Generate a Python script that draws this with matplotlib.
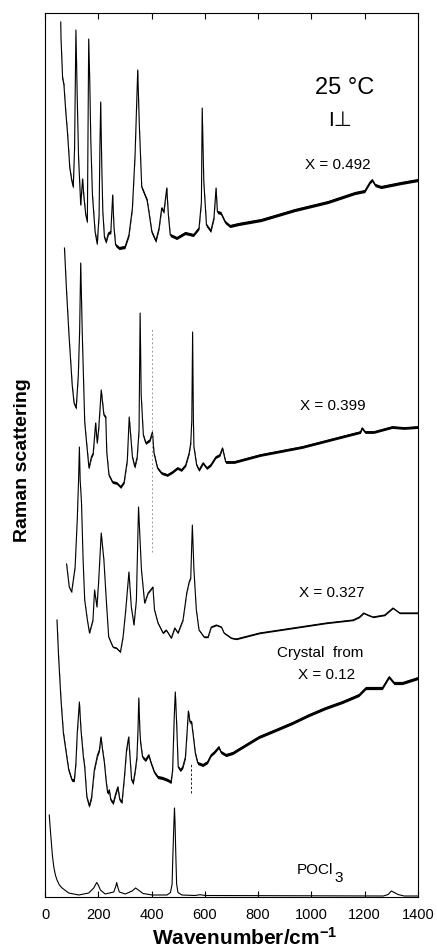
import matplotlib
matplotlib.use("Agg")
import numpy as np
import matplotlib.pyplot as plt

plt.rcParams["font.family"] = ["Liberation Sans", "DejaVu Sans"]
plt.rcParams["mathtext.fontset"] = "custom"
plt.rcParams["mathtext.rm"] = "Liberation Sans"
plt.rcParams["mathtext.it"] = "Liberation Sans:italic"
plt.rcParams["mathtext.bf"] = "Liberation Sans:bold"

# Raman spectra at 25 °C, I⊥ polarisation.
# Wavenumbers in cm^-1, intensities in arbitrary units with the traces stacked.
wn_x0492 = [59, 60, 66, 71, 78, 85, 93, 100, 106, 111, 116, 121, 126, 134, 141, 146, 153, 159, 161, 164,
            168, 172, 178, 188, 196, 203, 206, 209, 213, 217, 223, 229, 238, 247, 254, 259, 265, 278, 300, 315,
            328, 338, 348, 354, 363, 375, 383, 390, 401, 416, 428, 438, 446, 457, 463, 470, 494, 526, 557, 578,
            587, 590, 596, 606, 622, 634, 642, 647, 660, 676, 694, 726, 811, 938, 1062, 1163, 1200, 1220, 1228,
            1239, 1261, 1336, 1400]
int_x0492 = [875, 859, 819, 812, 785, 762, 729, 717, 710, 749, 867, 799, 739, 692, 718, 700, 682, 675, 749, 858,
             815, 755, 702, 665, 653, 682, 749, 795, 732, 685, 660, 655, 664, 665, 702, 669, 652, 649, 650, 662,
             689, 742, 827, 772, 710, 702, 697, 685, 665, 656, 669, 689, 685, 709, 682, 662, 659, 664, 662, 669,
             695, 789, 715, 672, 666, 679, 709, 685, 684, 675, 671, 673, 677, 687, 695, 704, 706, 715, 717,
             712, 710, 714, 717]

wn_x0399 = [73, 81, 90, 102, 109, 117, 125, 130, 134, 140, 149, 155, 165, 174, 181, 190, 196, 202, 211, 221,
            228, 232, 240, 253, 269, 284, 297, 309, 316, 328, 337, 346, 353, 357, 361, 369, 378, 394, 403, 409,
            422, 437, 459, 478, 497, 512, 528, 541, 547, 551, 554, 557, 559, 569, 578, 593, 607, 622, 641, 656,
            666, 678, 710, 808, 965, 1096, 1184, 1190, 1201, 1234, 1303, 1347, 1400]
int_x0399 = [649, 605, 562, 512, 494, 489, 522, 567, 634, 562, 475, 457, 429, 440, 444, 474, 454, 470, 507, 482,
             480, 444, 422, 415, 414, 410, 415, 437, 480, 440, 430, 440, 467, 584, 502, 462, 454, 457, 465, 444,
             429, 424, 422, 425, 429, 427, 432, 444, 454, 477, 565, 477, 450, 432, 427, 434, 429, 432, 440, 442,
             449, 435, 435, 442, 450, 459, 465, 469, 465, 465, 470, 469, 470]

wn_x0327 = [81, 91, 100, 113, 121, 126, 129, 132, 137, 143, 149, 159, 167, 180, 186, 195, 201, 211, 221, 230,
            239, 255, 268, 283, 293, 303, 315, 324, 334, 343, 351, 362, 374, 387, 405, 411, 424, 443, 455, 474,
            487, 499, 518, 532, 541, 547, 553, 559, 568, 578, 597, 612, 624, 643, 662, 672, 699, 718, 806, 931,
            1056, 1156, 1180, 1196, 1212, 1231, 1275, 1306, 1331, 1400]
int_x0327 = [333, 310, 305, 330, 377, 417, 450, 417, 394, 337, 297, 277, 264, 277, 307, 290, 314, 364, 337, 297,
             260, 250, 249, 245, 260, 287, 325, 290, 272, 297, 390, 327, 294, 304, 310, 287, 274, 264, 267, 259,
             269, 264, 277, 304, 315, 319, 372, 327, 287, 267, 260, 260, 270, 272, 270, 264, 259, 258, 264, 269,
             274, 277, 280, 284, 282, 280, 282, 289, 284, 284]

wn_crystal = [45, 51, 60, 69, 78, 89, 101, 110, 116, 121, 129, 135, 144, 149, 157, 166, 175, 185, 197, 204,
              210, 216, 223, 229, 235, 241, 247, 256, 266, 273, 281, 289, 298, 306, 314, 319, 325, 331, 339, 345,
              349, 352, 356, 359, 366, 377, 389, 398, 410, 423, 441, 460, 473, 479, 485, 489, 494, 500, 508, 517,
              527, 533, 538, 544, 550, 557, 564, 573, 592, 610, 623, 636, 652, 660, 679, 704, 741, 803, 866, 928,
              991, 1053, 1116, 1178, 1204, 1266, 1291, 1310, 1341, 1400]
int_crystal = [277, 240, 197, 164, 147, 127, 117, 117, 134, 164, 195, 167, 140, 130, 100, 91, 100, 127, 142, 147,
               160, 147, 134, 117, 104, 107, 97, 94, 104, 110, 97, 95, 120, 147, 160, 140, 117, 114, 127, 140,
               167, 199, 167, 154, 140, 137, 142, 134, 125, 120, 119, 117, 115, 127, 180, 205, 174, 130, 127, 130,
               140, 164, 186, 175, 175, 160, 144, 134, 132, 135, 142, 145, 150, 145, 142, 144, 150, 160, 167, 174,
               182, 189, 195, 202, 209, 209, 220, 214, 214, 219]

wn_pocl3 = [16, 20, 24, 28, 33, 39, 45, 54, 64, 89, 127, 164, 183, 190, 194, 200, 208, 226, 258, 266,
            269, 273, 279, 301, 327, 340, 353, 368, 402, 458, 471, 477, 480, 484, 486, 488, 491, 494, 499, 514,
            563, 582, 601, 1270, 1288, 1300, 1325, 1348, 1400]
int_pocl3 = [82, 67, 54, 41, 30, 22, 17, 12, 9, 4, 2, 4, 9, 12.5, 14.5, 12, 7, 3, 5, 11,
             14.5, 10, 5, 3, 6, 9, 6.5, 3.5, 2, 2, 4.5, 13, 42, 75, 89, 75, 42, 13, 4.5, 2,
             1.5, 2.3, 1.5, 1, 2.5, 6, 2.5, 1, 1]

spectra = [
    (wn_x0492, int_x0492),
    (wn_x0399, int_x0399),
    (wn_x0327, int_x0327),
    (wn_crystal, int_crystal),
    (wn_pocl3, int_pocl3),
]
# detector noise half-width drawn around each trace (same units as intensity)
noise_halfwidth = [1.6, 1.4, 0.7, 1.6, 0.0]

# band-position guide marks: wavenumber and intensity span
guide_wn = [400, 547]
guide_lo = [345, 104]
guide_hi = [570, 134]

fig = plt.figure(figsize=(4.37, 9.51), dpi=100)
ax = fig.add_axes([45 / 437, 54 / 951, 373 / 437, 884 / 951])

for (wn, inten), a in zip(spectra, noise_halfwidth):
    wn = np.asarray(wn, float)
    inten = np.asarray(inten, float)
    ax.plot(wn, inten, color="black", lw=0.8, solid_joinstyle="round")
    if a > 0:
        ax.fill_between(wn, inten - a, inten + a, color="black", lw=0)

ax.plot([guide_wn[0]] * 2, [guide_lo[0], guide_hi[0]], color="0.5", lw=0.6, ls=(0, (2, 3)))
ax.plot([guide_wn[1]] * 2, [guide_lo[1], guide_hi[1]], color="0.15", lw=0.7, ls=(0, (2.5, 2)))

ax.set_xlim(0, 1400)
ax.set_ylim(0, 884)
ax.set_xticks(range(0, 1401, 200))
ax.set_yticks([])
ax.tick_params(axis="x", direction="in", top=True, length=4, width=0.8, pad=8, labelsize=10.5)
for s in ax.spines.values():
    s.set_linewidth(0.8)

ax.text(1126, 809, "25 °C", ha="center", va="center", fontsize=17)
ax.text(1107, 777, "I⊥", ha="center", va="center", fontsize=15)
ax.text(1098, 732, "X = 0.492", ha="center", va="center", fontsize=11)
ax.text(1079, 491, "X = 0.399", ha="center", va="center", fontsize=11)
ax.text(1077, 304, "X = 0.327", ha="center", va="center", fontsize=11)
ax.text(1031, 244, "Crystal  from", ha="center", va="center", fontsize=11)
ax.text(1055, 222, "X = 0.12", ha="center", va="center", fontsize=11)
ax.text(1082, 27, "POCl", ha="right", va="center", fontsize=11)
ax.text(1088, 19, "3", ha="left", va="center", fontsize=11)

fig.text(245 / 437, 1 - 938 / 951, r"Wavenumber/cm$^{\mathbf{-1}}$", ha="center", va="center",
         fontsize=15, fontweight="bold")
fig.text(23 / 437, 1 - 460 / 951, "Raman scattering", ha="center", va="center", rotation=90,
         fontsize=14, fontweight="bold")

fig.savefig("out.png", dpi=100)
